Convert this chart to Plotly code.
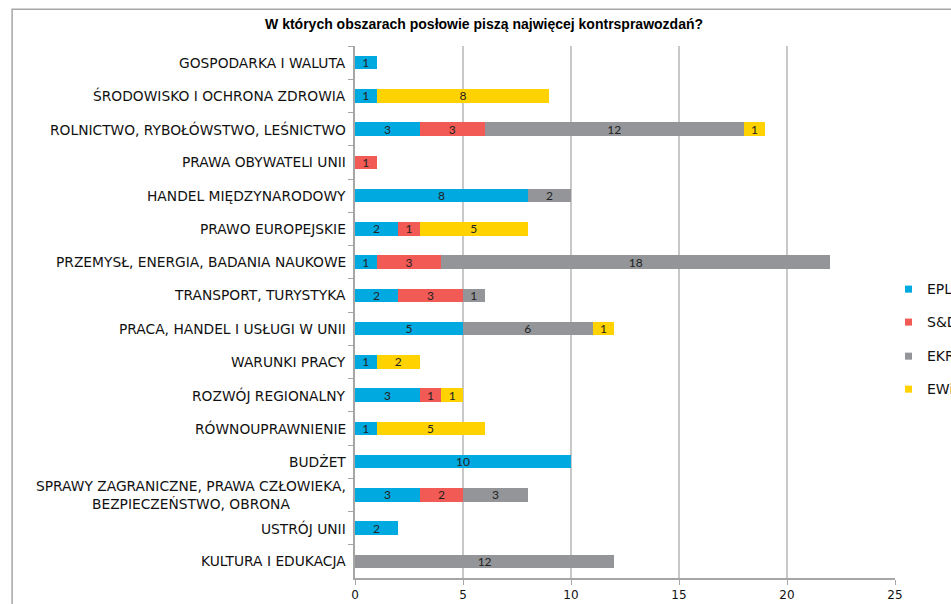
import plotly.graph_objects as go

categories = [
    "GOSPODARKA I WALUTA",
    "ŚRODOWISKO I OCHRONA ZDROWIA",
    "ROLNICTWO, RYBOŁÓWSTWO, LEŚNICTWO",
    "PRAWA OBYWATELI UNII",
    "HANDEL MIĘDZYNARODOWY",
    "PRAWO EUROPEJSKIE",
    "PRZEMYSŁ, ENERGIA, BADANIA NAUKOWE",
    "TRANSPORT, TURYSTYKA",
    "PRACA, HANDEL I USŁUGI W UNII",
    "WARUNKI PRACY",
    "ROZWÓJ REGIONALNY",
    "RÓWNOUPRAWNIENIE",
    "BUDŻET",
    "SPRAWY ZAGRANICZNE, PRAWA CZŁOWIEKA,<br>BEZPIECZEŃSTWO, OBRONA",
    "USTRÓJ UNII",
    "KULTURA I EDUKACJA",
]

epl = [1, 1, 3, None, 8, 2, 1, 2, 5, 1, 3, 1, 10, 3, 2, None]
sd = [None, None, 3, 1, None, 1, 3, 3, None, None, 1, None, None, 2, None, None]
ekr = [None, None, 12, None, 2, None, 18, 1, 6, None, None, None, None, 3, None, 12]
ewl = [None, 8, 1, None, None, 5, None, None, 1, 2, 1, 5, None, None, None, None]

series = [
    ("EPL", epl, "#00A9E0"),
    ("S&D", sd, "#F25A56"),
    ("EKR", ekr, "#939598"),
    ("EWiD", ewl, "#FFD200"),
]

fig = go.Figure()
for name, vals, color in series:
    fig.add_trace(go.Bar(
        y=categories, x=vals, orientation="h", name=name,
        marker=dict(color=color, line_width=0),
        text=vals, textposition="inside", insidetextanchor="middle",
        textangle=0, constraintext="none",
        textfont=dict(family="Lato, sans-serif", size=12, color="#222222"),
    ))

# category labels, centred per line like the original
for cat in categories:
    fig.add_annotation(
        x=0, y=cat, xref="paper", yref="y", xanchor="right", xshift=-7,
        text=cat, showarrow=False, align="center",
        font=dict(family="DejaVu Sans, Verdana, sans-serif", size=13.8, color="#111111"),
    )

# legend drawn by hand, it runs off the right edge like in the original
leg_y = [0.543, 0.481, 0.417, 0.355]
for (name, _, color), ly in zip(series, leg_y):
    fig.add_shape(
        type="rect", xref="paper", yref="paper",
        x0=1.0185, x1=1.0315, y0=ly - 0.0066, y1=ly + 0.0066,
        fillcolor=color, line_width=0,
    )
    fig.add_annotation(
        x=1.056, y=ly, xref="paper", yref="paper", xanchor="left", yanchor="middle",
        text=name, showarrow=False,
        font=dict(family="DejaVu Sans, Verdana, sans-serif", size=14, color="#111111"),
    )

# outer frame (clipped by page edges)
fig.add_shape(
    type="rect", xref="paper", yref="paper",
    x0=-0.635, x1=1.3, y0=-0.2, y1=1.069,
    line=dict(color="#a6a6a6", width=1.5), layer="below",
)

fig.update_layout(
    width=951, height=604,
    paper_bgcolor="white", plot_bgcolor="white",
    barmode="stack", bargap=0.6, showlegend=False,
    margin=dict(l=355, r=56, t=46, b=26, autoexpand=False),
    title=dict(
        text="<b>W których obszarach posłowie piszą najwięcej kontrsprawozdań?</b>",
        x=0.509, xanchor="center", xref="container",
        y=0.960, yanchor="middle", yref="container",
        font=dict(family="Liberation Sans, Arial, sans-serif", size=14, color="#000000"),
    ),
    xaxis=dict(
        range=[0, 25], tickvals=[0, 5, 10, 15, 20, 25],
        showgrid=True, gridcolor="#c8c8c8", gridwidth=1.5,
        showline=True, linecolor="#a6a6a6", linewidth=1.5,
        ticks="outside", ticklen=5, tickcolor="#a6a6a6",
        zeroline=False,
        tickfont=dict(family="DejaVu Sans, Verdana, sans-serif", size=12, color="#111111"),
    ),
    yaxis=dict(
        categoryorder="array", categoryarray=categories,
        autorange="reversed", showticklabels=False,
        showline=True, linecolor="#a6a6a6", linewidth=1.5,
        ticks="outside", ticklen=5, tickcolor="#a6a6a6", tickson="boundaries",
        showgrid=False,
    ),
)

# no body margin / scrollbars, so the figure fills the window exactly
fig.write_html(
    "out.html",
    config={"displayModeBar": False},
    post_script="document.body.style.margin='0';document.body.style.overflow='hidden';",
)
